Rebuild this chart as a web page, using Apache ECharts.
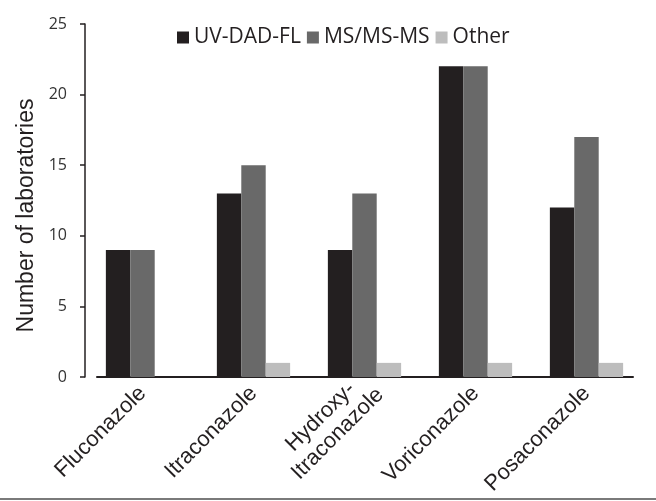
<!DOCTYPE html>
<html>
<head>
<meta charset="utf-8">
<script src="https://cdn.jsdelivr.net/npm/echarts@6/dist/echarts.min.js"></script>
<style>html,body{margin:0;padding:0;background:#fff;}#c{width:656px;height:501px;}</style>
</head>
<body>
<div id="c"></div>
<script>
const categories = ['Fluconazole', 'Itraconazole', 'Hydroxy-\nItraconazole', 'Voriconazole', 'Posaconazole'];
const seriesNames = ['UV-DAD-FL', 'MS/MS-MS', 'Other'];
const uvDadFl = [9, 13, 9, 22, 12];
const msMsMs = [9, 15, 13, 22, 17];
const other = [0, 1, 1, 1, 1];
const yTicks = [0, 5, 10, 15, 20, 25];
const colors = ['#231f20', '#696969', '#bdbdbd'];

const chart = echarts.init(document.getElementById('c'), null, {renderer: 'canvas'});
const catData = categories.map(function (c) {
  if (c.indexOf('\n') >= 0) {
    return {value: c, textStyle: {align: 'center', padding: [0, 100, 0, 0], lineHeight: 24}};
  }
  return c;
});
chart.setOption({
  animation: false,
  backgroundColor: '#fff',
  color: colors,
  legend: {
    data: seriesNames,
    left: 172,
    top: 22,
    icon: 'rect',
    itemWidth: 12,
    itemHeight: 12,
    itemGap: 6,
    textStyle: {fontFamily: 'Open Sans', fontSize: 21, color: '#231f20'}
  },
  grid: [
    {left: 87, right: 14, top: 24, bottom: 124, outerBoundsMode: 'none', containLabel: false},
    {left: 97, right: 23, top: 24, bottom: 124, outerBoundsMode: 'none', containLabel: false}
  ],
  xAxis: [
    {
      type: 'category',
      gridIndex: 0,
      data: catData,
      axisLine: {show: false},
      axisTick: {show: false},
      axisLabel: {
        interval: 0,
        rotate: 45,
        margin: 13,
        fontFamily: 'Liberation Sans, Arial',
        fontSize: 22,
        color: '#231f20'
      }
    },
    {
      type: 'value',
      gridIndex: 1,
      axisLine: {show: true, lineStyle: {color: '#231f20', width: 2}},
      axisTick: {show: false},
      axisLabel: {show: false},
      splitLine: {show: false}
    }
  ],
  yAxis: [
    {
      type: 'value',
      gridIndex: 0,
      min: 0,
      max: 25,
      interval: 5,
      offset: 2,
      name: 'Number of laboratories',
      nameLocation: 'middle',
      nameGap: 45,
      nameTextStyle: {fontFamily: 'Liberation Sans, Arial', fontSize: 23, color: '#231f20', padding: [0, 30, 0, 0]},
      axisLine: {show: true, lineStyle: {color: '#231f20', width: 1.5}},
      axisTick: {show: true, length: 5, lineStyle: {color: '#231f20', width: 1.5}},
      axisLabel: {
        margin: 18,
        fontFamily: 'Open Sans',
        fontSize: 16,
        color: '#333',
        formatter: function (v) { return yTicks.indexOf(v) >= 0 ? String(v) : ''; }
      },
      splitLine: {show: false}
    },
    {type: 'value', gridIndex: 1, show: false}
  ],
  series: [
    {name: seriesNames[0], type: 'bar', xAxisIndex: 0, yAxisIndex: 0, data: uvDadFl, barGap: '0%', barCategoryGap: '34%'},
    {name: seriesNames[1], type: 'bar', xAxisIndex: 0, yAxisIndex: 0, data: msMsMs, barGap: '0%', barCategoryGap: '34%'},
    {name: seriesNames[2], type: 'bar', xAxisIndex: 0, yAxisIndex: 0, data: other, barGap: '0%', barCategoryGap: '34%'}
  ],
  graphic: [
    {type: 'rect', left: 0, bottom: 1, shape: {width: 656, height: 2}, style: {fill: '#7a7a7a'}, silent: true}
  ]
});
</script>
</body>
</html>
